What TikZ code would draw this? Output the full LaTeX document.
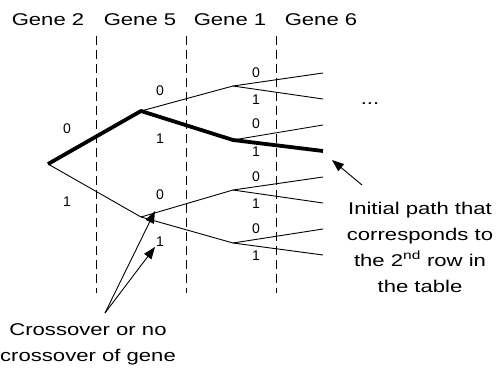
\documentclass[tikz,border=0pt]{standalone}
\usepackage{fontspec}
\setmainfont{Liberation Sans}[FakeStretch=1.3]
\newfontfamily\bitfont{Liberation Sans}
\usetikzlibrary{arrows.meta,positioning}

\begin{document}
\begin{tikzpicture}[x=1pt, y=-1pt, >={Triangle[length=12pt,width=9pt]},
  font=\fontsize{17}{26}\selectfont,
  edge/.style={line width=0.9pt},
  chosen/.style={line width=3.8pt, line join=round},
  bit/.style={font=\bitfont\fontsize{14}{16}\selectfont, inner sep=0pt},
  sep/.style={dash pattern=on 9pt off 5pt, line width=0.8pt}]
  \useasboundingbox (0,0) rectangle (498,369);
  % gene headers
  \node (g2) at (48,20) {Gene 2};
  \node (g5) at (140,20) {Gene 5};
  \node (g1) at (230,20) {Gene 1};
  \node (g6) at (321,20) {Gene 6};
  % separators
  \foreach \x/\n in {96/sa,186/sb,276/sc} {
    \coordinate (\n top) at (\x,36);
    \coordinate (\n bot) at (\x,293);
    \draw[sep] (\n top) -- (\n bot);
  }
  % tree points
  \coordinate (r) at (48,164);
  \coordinate (a0) at (141,111);
  \coordinate (a1) at (141,217);
  \coordinate (b00) at (233,86);
  \coordinate (b01) at (233,140);
  \coordinate (b10) at (233,190);
  \coordinate (b11) at (233,243);
  \coordinate (c000) at (323,73);
  \coordinate (c001) at (323,99);
  \coordinate (c010) at (323,125);
  \coordinate (c011) at (323,151);
  \coordinate (c100) at (323,177);
  \coordinate (c101) at (323,203);
  \coordinate (c110) at (323,229);
  \coordinate (c111) at (323,255);
  % branches
  \draw[edge] (r) -- (a1);
  \draw[edge] (a0) -- (b00);
  \draw[edge] (a1) -- (b10);
  \draw[edge] (a1) -- (b11);
  \draw[edge] (b00) -- (c000);
  \draw[edge] (b00) -- (c001);
  \draw[edge] (b01) -- (c010);
  \draw[edge] (b10) -- (c100);
  \draw[edge] (b10) -- (c101);
  \draw[edge] (b11) -- (c110);
  \draw[edge] (b11) -- (c111);
  \draw[chosen] (r) -- (a0) -- (b01) -- (c011);
  % bits
  \node[bit] (r0) at (67,129) {0};
  \node[bit] (r1) at (67,202) {1};
  \node[bit] (a00) at (160,91) {0};
  \node[bit] (a01) at (160,139) {1};
  \node[bit] (a10) at (160,195) {0};
  \node[bit] (a11) at (160,242) {1};
  \node[bit] (l000) at (256,73) {0};
  \node[bit] (l001) at (256,100) {1};
  \node[bit] (l010) at (256,124) {0};
  \node[bit] (l011) at (256,152) {1};
  \node[bit] (l100) at (256,177) {0};
  \node[bit] (l101) at (256,204) {1};
  \node[bit] (l110) at (256,229) {0};
  \node[bit] (l111) at (256,256) {1};
  \node (dots) at (370,104) {...};
  % notes
  \node[align=center] (pathnote) at (420,247)
    {Initial path that\\corresponds to\\the 2\textsuperscript{nd} row in\\the table};
  \coordinate (pathtail) at (362,185);
  \coordinate (pathtip) at (332,160);
  \draw[->, edge] (pathtail) -- (pathtip);
  \node[align=center] (xnote) at (88,344) {Crossover or no\\crossover of gene};
  \coordinate (xtail) at (105,313);
  \coordinate (xtip0) at (155,211);
  \coordinate (xtip1) at (155,247);
  \draw[->, edge] (xtail) -- (xtip0);
  \draw[->, edge] (xtail) -- (xtip1);
\end{tikzpicture}
\end{document}
